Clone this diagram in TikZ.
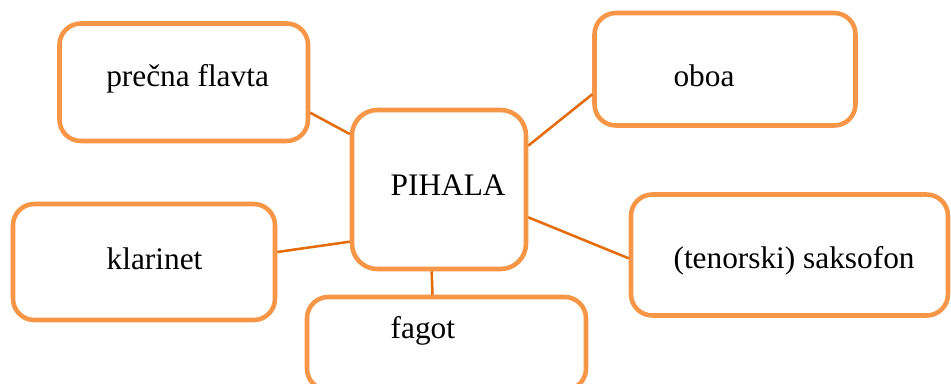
\documentclass[tikz,border=0pt]{standalone}
\usepackage{fontspec}
\setmainfont{Liberation Serif}
\definecolor{boxor}{HTML}{F79646}
\definecolor{lineor}{HTML}{E46C0A}
\begin{document}
\begin{tikzpicture}[x=0.75pt,y=-0.75pt,
  ibox/.style={draw=boxor,line width=3.4pt,rounded corners=16pt,fill=white,inner sep=0pt},
  conn/.style={draw=lineor,line width=1.9pt},
  lbl/.style={anchor=base west,inner sep=0pt,font=\fontsize{23.5}{28}\selectfont}]
\clip (0,0) rectangle (951,383);
\fill[white] (0,0) rectangle (951,383);
\node[ibox,minimum width=248.5*0.75pt,minimum height=117.5*0.75pt] (flavta) at (183.75,82.25) {};
\node[ibox,rounded corners=19pt,minimum width=174*0.75pt,minimum height=159*0.75pt] (pihala) at (439,189.5) {};
\node[ibox,minimum width=262*0.75pt,minimum height=116*0.75pt] (klarinet) at (144,262) {};
\node[ibox,minimum width=279*0.75pt,minimum height=93*0.75pt] (fagot) at (446.5,343.5) {};
\node[ibox,minimum width=261*0.75pt,minimum height=112.5*0.75pt] (oboa) at (725,69.25) {};
\node[ibox,minimum width=317*0.75pt,minimum height=121*0.75pt] (saks) at (789.5,255) {};
\draw[conn] ([yshift=-22.84pt]flavta.east) -- ([yshift=41.6pt]pihala.west);
\draw[conn] ([yshift=7.5pt]klarinet.east) -- ([yshift=-39.15pt]pihala.west);
\draw[conn] ([xshift=-10.5pt]fagot.north) -- ([xshift=-5.5pt]pihala.south);
\draw[conn] ([yshift=32.85pt]pihala.east) -- ([yshift=-18.8pt]oboa.west);
\draw[conn] ([yshift=-20.85pt]pihala.east) -- ([yshift=-2.5pt]saks.west);
\node[lbl] (tflavta) at (106,86) {prečna flavta};
\node[lbl] (tpihala) at (390.4,195) {PIHALA};
\node[lbl] (tklarinet) at (106.4,269) {klarinet};
\node[lbl] (tfagot) at (390.4,338) {fagot};
\node[lbl] (toboa) at (673.3,86) {oboa};
\node[lbl] (tsaks) at (673.3,268) {(tenorski) saksofon};
\end{tikzpicture}
\end{document}
